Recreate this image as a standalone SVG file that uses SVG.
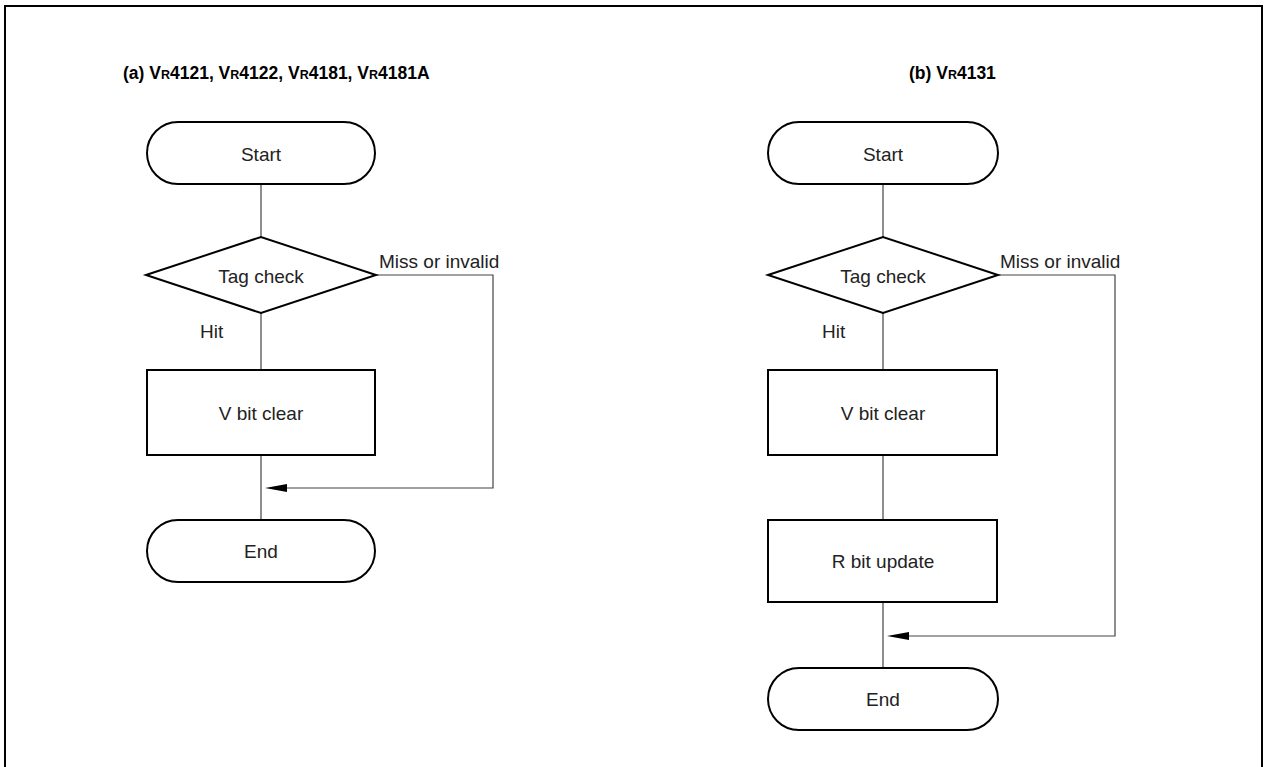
<svg xmlns="http://www.w3.org/2000/svg" width="1265" height="767" viewBox="0 0 1265 767">
<style>
.shape{fill:#fff;stroke:#000;stroke-width:2}
.conn{fill:none;stroke:#444;stroke-width:1.2}
.t{font-family:"Liberation Sans",Arial,sans-serif;font-size:19px;fill:#222}
.c{text-anchor:middle;dominant-baseline:central}
.title{font-family:"Liberation Sans",Arial,sans-serif;font-size:17.5px;font-weight:bold;fill:#000}
.sub{font-size:12.5px}
</style>
<rect x="5" y="6" width="1257" height="780" fill="none" stroke="#000" stroke-width="2"/>
<text class="title" x="123" y="79">(a) V<tspan class="sub">R</tspan>4121, V<tspan class="sub">R</tspan>4122, V<tspan class="sub">R</tspan>4181, V<tspan class="sub">R</tspan>4181A</text>
<text class="title" x="909" y="79">(b) V<tspan class="sub">R</tspan>4131</text>

<g id="connectors">
<path class="conn" d="M261,184 V237"/>
<path class="conn" d="M261,313 V370"/>
<path class="conn" d="M261,455 V520"/>
<path class="conn" d="M376,275 H493 V488 H287"/>
<path d="M265,488 L287,484 L287,492 Z" fill="#000"/>
<path class="conn" d="M883,184 V237"/>
<path class="conn" d="M883,313 V370"/>
<path class="conn" d="M883,455 V520"/>
<path class="conn" d="M883,602 V668"/>
<path class="conn" d="M998,275 H1115 V636 H909"/>
<path d="M887,636 L909,632 L909,640 Z" fill="#000"/>
</g>

<g id="a-start"><rect class="shape" x="147" y="122" width="228" height="62" rx="31"/><text class="t c" x="261" y="154">Start</text></g>
<g id="a-tag"><polygon class="shape" points="146,275 261,237 376,275 261,313"/><text class="t c" x="261" y="276">Tag check</text></g>
<g id="a-miss"><text class="t" x="379" y="268">Miss or invalid</text></g>
<g id="a-hit"><text class="t" x="200" y="338">Hit</text></g>
<g id="a-vbit"><rect class="shape" x="147" y="370" width="228" height="85"/><text class="t c" x="261" y="413">V bit clear</text></g>
<g id="a-end"><rect class="shape" x="147" y="520" width="228" height="62" rx="31"/><text class="t c" x="261" y="551">End</text></g>

<g id="b-start"><rect class="shape" x="768" y="122" width="230" height="62" rx="31"/><text class="t c" x="883" y="154">Start</text></g>
<g id="b-tag"><polygon class="shape" points="768,275 883,237 998,275 883,313"/><text class="t c" x="883" y="276">Tag check</text></g>
<g id="b-miss"><text class="t" x="1000" y="268">Miss or invalid</text></g>
<g id="b-hit"><text class="t" x="822" y="338">Hit</text></g>
<g id="b-vbit"><rect class="shape" x="768" y="370" width="229" height="85"/><text class="t c" x="883" y="413">V bit clear</text></g>
<g id="b-rbit"><rect class="shape" x="768" y="520" width="229" height="82"/><text class="t c" x="883" y="561">R bit update</text></g>
<g id="b-end"><rect class="shape" x="768" y="668" width="230" height="62" rx="31"/><text class="t c" x="883" y="699">End</text></g>
</svg>
